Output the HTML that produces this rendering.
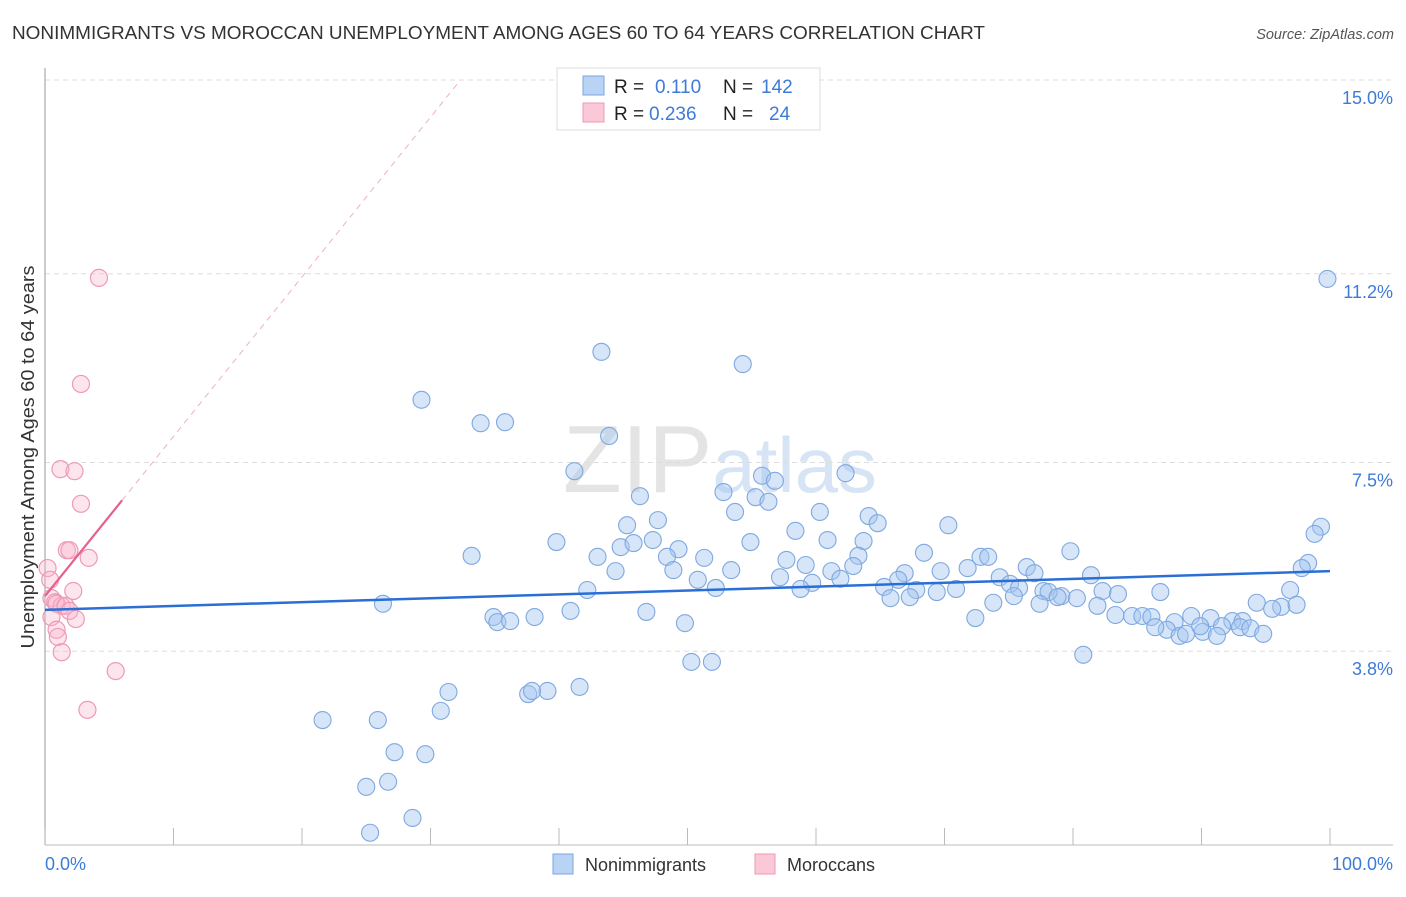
<!DOCTYPE html>
<html><head><meta charset="utf-8"><style>
body{margin:0;background:#fff;font-family:"Liberation Sans",sans-serif;}
svg text{font-family:"Liberation Sans",sans-serif;}
</style></head><body>
<svg id="chart" width="1406" height="892" xmlns="http://www.w3.org/2000/svg">
<text x="12" y="39" font-size="18.5" fill="#333" textLength="973" lengthAdjust="spacingAndGlyphs">NONIMMIGRANTS VS MOROCCAN UNEMPLOYMENT AMONG AGES 60 TO 64 YEARS CORRELATION CHART</text>
<text x="1394" y="39" font-size="14.5" fill="#555" font-style="italic" text-anchor="end">Source: ZipAtlas.com</text>
<text x="720" y="492" font-size="96" fill="#e4e4e4" text-anchor="middle" font-family="Liberation Serif">ZIP<tspan fill="#d6e4f5" font-family="Liberation Sans" font-size="78">atlas</tspan></text>
<g id="grid"></g>
<line x1="45" y1="68" x2="45" y2="845" stroke="#aaa" stroke-width="1.2"/>
<line x1="45" y1="845" x2="1393" y2="845" stroke="#bbb" stroke-width="1"/>
<g id="xticks"></g>
<text x="45" y="870" font-size="18" fill="#3d7bd8">0.0%</text>
<text x="1393" y="870" font-size="18" fill="#3d7bd8" text-anchor="end">100.0%</text>
<text transform="translate(34,457) rotate(-90)" font-size="18.5" fill="#333" text-anchor="middle" textLength="383" lengthAdjust="spacingAndGlyphs">Unemployment Among Ages 60 to 64 years</text>
<g id="pts"></g>
<g id="lines"></g>
<g>
<rect x="557" y="68" width="263" height="62" fill="#fff" stroke="#ddd"/>
<rect x="583" y="76" width="21" height="19" fill="#b9d3f5" stroke="#7aa6e0"/>
<rect x="583" y="103" width="21" height="19" fill="#fbc8d7" stroke="#ec9ab4"/>
<text y="93" font-size="19"><tspan x="614" fill="#222">R = </tspan><tspan x="655" fill="#3d7bd8">0.110</tspan><tspan x="723" fill="#222">N = </tspan><tspan x="761" fill="#3d7bd8">142</tspan></text>
<text y="120" font-size="19"><tspan x="614" fill="#222">R = </tspan><tspan x="649" fill="#3d7bd8">0.236</tspan><tspan x="723" fill="#222">N = </tspan><tspan x="769" fill="#3d7bd8">24</tspan></text>
</g>
<g>
<rect x="553" y="854" width="20" height="20" fill="#b9d3f5" stroke="#7aa6e0"/>
<text x="585" y="871" font-size="18" fill="#333">Nonimmigrants</text>
<rect x="755" y="854" width="20" height="20" fill="#fbc8d7" stroke="#ec9ab4"/>
<text x="787" y="871" font-size="18" fill="#333">Moroccans</text>
</g>
</svg>
<script>
const yTicks=[3.8,7.5,11.2,15.0];
const yTickLabels=["3.8%","7.5%","11.2%","15.0%"];
const xTicks=[0,10,20,30,40,50,60,70,80,90,100];
const blueX=[99.8,43.3,54.3,29.3,33.9,35.8,43.9,41.2,55.8,62.3,56.8,46.3,52.8,55.3,56.3,53.7,47.7,45.3,60.3,64.1,64.8,70.3,99.3,98.8,58.4,39.8,44.8,45.8,47.3,49.3,54.9,60.9,63.7,33.2,43.0,48.4,51.3,57.7,63.3,68.4,79.8,72.8,73.4,98.3,97.8,44.4,48.9,53.4,59.2,62.9,61.2,71.8,69.7,76.4,77.0,50.8,57.2,59.7,61.9,66.9,66.4,81.4,74.3,75.1,42.2,52.2,58.8,65.3,67.8,69.4,70.9,75.8,77.7,79.1,82.3,83.5,86.8,96.9,65.8,67.3,75.4,78.1,78.8,80.3,73.8,77.4,81.9,94.3,96.2,97.4,95.5,26.3,40.9,46.8,34.9,38.1,35.2,36.2,49.8,72.4,83.3,84.6,85.4,86.1,89.2,90.7,92.4,93.2,87.9,93.0,93.8,91.6,87.3,88.3,88.8,90.1,91.2,94.8,89.9,86.4,80.8,50.3,51.9,41.6,39.1,37.6,37.9,31.4,30.8,21.6,25.9,27.2,29.6,26.7,25.0,28.6,25.3];
const blueY=[11.10,9.67,9.43,8.73,8.27,8.29,8.02,7.33,7.24,7.29,7.14,6.84,6.92,6.82,6.73,6.53,6.37,6.27,6.53,6.45,6.31,6.27,6.24,6.10,6.16,5.94,5.84,5.92,5.98,5.80,5.94,5.98,5.96,5.67,5.65,5.65,5.63,5.59,5.67,5.73,5.76,5.65,5.65,5.53,5.43,5.37,5.39,5.39,5.49,5.47,5.37,5.43,5.37,5.45,5.33,5.20,5.25,5.14,5.22,5.33,5.20,5.29,5.25,5.12,5.00,5.04,5.02,5.06,5.00,4.96,5.02,5.04,4.98,4.88,4.98,4.92,4.96,5.00,4.84,4.86,4.88,4.96,4.86,4.84,4.75,4.73,4.69,4.75,4.67,4.71,4.63,4.73,4.59,4.57,4.47,4.47,4.37,4.39,4.35,4.45,4.51,4.49,4.49,4.47,4.49,4.45,4.39,4.39,4.37,4.27,4.25,4.29,4.22,4.10,4.14,4.18,4.10,4.14,4.29,4.27,3.73,3.59,3.59,3.10,3.02,2.96,3.02,3.00,2.63,2.45,2.45,1.82,1.78,1.24,1.14,0.53,0.24];
const pinkX=[4.2,2.8,1.2,2.3,2.8,1.7,1.9,3.4,0.2,0.4,2.2,0.5,0.8,1.3,0.9,1.6,1.9,2.4,0.5,0.9,1.0,1.3,5.5,3.3];
const pinkY=[11.12,9.04,7.37,7.33,6.69,5.78,5.78,5.63,5.43,5.20,4.98,4.84,4.76,4.69,4.73,4.69,4.59,4.43,4.47,4.22,4.08,3.78,3.41,2.65];
const blueTrend=[4.61,5.37];   // value at x=0 and x=100
const pinkTrend=[4.88,0.313];  // intercept, slope per %
const X=v=>45+v*12.85, Y=v=>845-v*51;
const NS="http://www.w3.org/2000/svg";
function mk(tag,attrs,parent){const e=document.createElementNS(NS,tag);for(const k in attrs)e.setAttribute(k,attrs[k]);document.getElementById(parent).appendChild(e);return e;}
mk('line',{x1:45,y1:80,x2:1393,y2:80,stroke:'#ddd','stroke-dasharray':'5,4'},'grid');
yTicks.forEach((t,i)=>{
  const l=mk('line',{x1:45,y1:Y(t),x2:1393,y2:Y(t),stroke:'#ddd','stroke-dasharray':'5,4'},'grid');
  
  
  const tx=mk('text',{x:1393,y:Y(t)+24,'font-size':18,fill:'#3d7bd8','text-anchor':'end'},'grid');
  tx.textContent=yTickLabels[i];
  
  
});
xTicks.forEach(t=>{
  const l=mk('line',{x1:X(t),y1:828,x2:X(t),y2:845,stroke:'#bbb'},'xticks');
  
  
});
pinkX.forEach((x,i)=>{
  const c=mk('circle',{cx:X(x),cy:Y(pinkY[i]),r:8.5,fill:'rgba(248,180,202,0.35)',stroke:'#ee9ab5','stroke-width':1.2},'pts');
  
  
});
blueX.forEach((x,i)=>{
  const c=mk('circle',{cx:X(x),cy:Y(blueY[i]),r:8.5,fill:'rgba(165,198,240,0.45)',stroke:'#7fa8e0','stroke-width':1.1},'pts');
  
  
});
const bl=mk('line',{x1:X(0),y1:Y(blueTrend[0]),x2:X(100),y2:Y(blueTrend[1]),stroke:'#2a6fd6','stroke-width':2.5},'lines');


const xEnd=(15.0-pinkTrend[0])/pinkTrend[1];
const pd=mk('line',{x1:X(6),y1:Y(pinkTrend[0]+6*pinkTrend[1]),x2:X(xEnd),y2:Y(15.0),stroke:'#eeb0c4','stroke-width':1,'stroke-dasharray':'6,5'},'lines');


const pl=mk('line',{x1:X(0),y1:Y(pinkTrend[0]),x2:X(6),y2:Y(pinkTrend[0]+6*pinkTrend[1]),stroke:'#e8608a','stroke-width':2.2},'lines');


</script>
</body></html>
